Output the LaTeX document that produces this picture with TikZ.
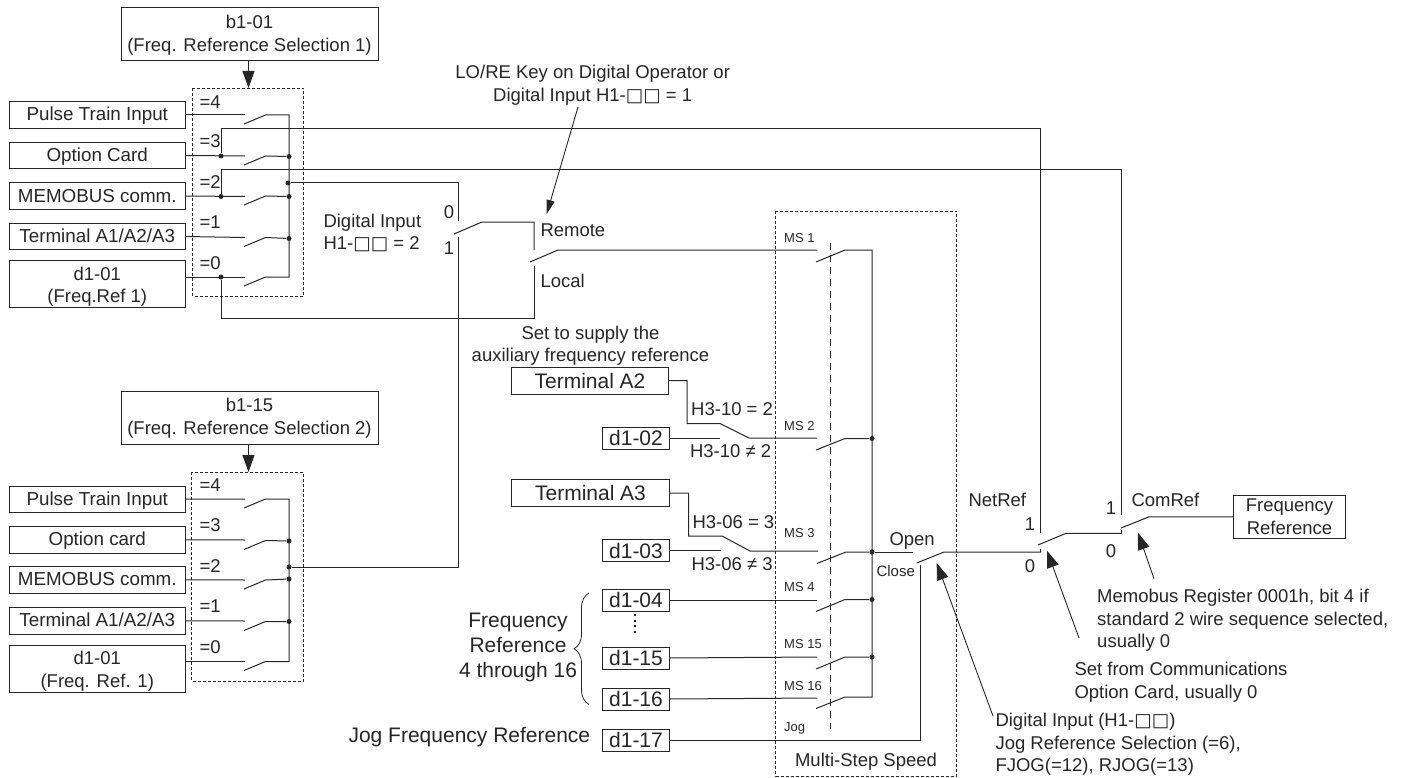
\documentclass[tikz,border=0pt]{standalone}
\usepackage{fontspec}
\setmainfont{Liberation Sans}
\newfontfamily\symfont{DejaVu Sans}
\usetikzlibrary{arrows.meta,positioning,decorations.pathreplacing}
\colorlet{ink}{black!85}
\newcommand{\sqq}{{\symfont\fontsize{18.5}{18.5}\selectfont □□}}

\begin{document}
\begin{tikzpicture}[
  x=1pt, y=-1pt,
  every path/.style={line width=1pt, color=ink},
  fnt/.style={font=\fontsize{18.5}{22.5}\selectfont},
  plainbox/.style={draw, fnt, align=center, inner sep=0pt, outer sep=0pt, minimum width=175.5pt, minimum height=26.5pt},
  box/.style={plainbox, font=\fontsize{18.8}{22.5}\selectfont, text height=12pt, text depth=0pt},
  tallbox/.style={plainbox, minimum height=47pt},
  selbox/.style={plainbox, minimum width=257pt, minimum height=53pt},
  parbox/.style={draw, align=center, inner sep=0pt, outer sep=0pt, font=\fontsize{21}{25}\selectfont, minimum width=67pt, minimum height=22pt},
  termbox/.style={parbox, minimum width=157.5pt, minimum height=27pt},
  dashbox/.style={draw, dash pattern=on 3pt off 2pt, line width=.9pt},
  lab/.style={fnt, inner sep=0pt, anchor=west, align=left, text height=13pt, text depth=0pt},
  small/.style={inner sep=0pt, anchor=west, font=\fontsize{13}{15}\selectfont, text height=9.5pt, text depth=0pt},
  note/.style={fnt, inner sep=0pt, anchor=north west, align=left},
  dot/.style={circle, fill=ink, inner sep=0pt, minimum size=5pt},
  arr/.style={-{Triangle[length=17pt,width=12pt]}, line width=.9pt}
]
\useasboundingbox (0,0) rectangle (1404,778);

% upper selection
\node[selbox] (sela) at (249.5,34.5) {\rule{0pt}{14.5pt}b1-01\\(Freq. Reference Selection 1)};
\node[box] (pulsea) at (97.25,115) {Pulse Train Input};
\node[box, below=14pt of pulsea] (opta) {Option Card};
\node[box, below=14pt of opta] (memoa) {MEMOBUS comm.};
\node[box, below=14pt of memoa] (terma) {Terminal A1/A2/A3};
\node[tallbox, below=11pt of terma] (refa) {\rule{0pt}{18pt}d1-01\\(Freq.Ref 1)};
\draw[dashbox] (192.5,88) rectangle (303,296);
\coordinate (sela in) at (248.5,88);
\draw[arr] (sela.south -| sela in) -- (sela in);
\node[lab] (eqa4) at (199,102) {=4};
\node[lab] (eqa3) at (199,141) {=3};
\node[lab] (eqa2) at (199,182) {=2};
\node[lab] (eqa1) at (199,222) {=1};
\node[lab] (eqa0) at (199,263) {=0};
\coordinate (buga) at (289,115);
\coordinate (bugb) at (289,277);
\node[dot] (dota3) at (289,156.5) {};
\node[dot] (dota2) at (289,196.5) {};
\node[dot] (dota1) at (289,238.5) {};
\node[dot] (dotout) at (288,183) {};
\node[dot] (tapopt) at (221,156) {};
\node[dot] (tapmemo) at (221,196.5) {};
\node[dot] (tapref) at (221,277) {};
\coordinate (ia4) at (245,115);
\coordinate (ia3) at (245,156);
\coordinate (ia2) at (245,196.5);
\coordinate (ia1) at (245,237.5);
\coordinate (ia0) at (245,277);
\draw (pulsea.east) -- (ia4);
\draw (opta.east) -- (ia3);
\draw (memoa.east) -- (ia2);
\draw (terma.east) -- (ia1);
\draw (refa.east |- ia0) -- (ia0);
\draw (244,124) -- ++(21.5,-9) -- (buga) -- (bugb) -- ++(-23.5,0) -- ++(-21.5,9);
\draw (244,165) -- ++(21.5,-9) -- (dota3);
\draw (244,205) -- ++(21.5,-9) -- (dota2);
\draw (244,246.5) -- ++(21.5,-9) -- (dota1);

% lower selection
\node[selbox] (selb) at (249.5,417.5) {\rule{0pt}{14.5pt}b1-15\\(Freq. Reference Selection 2)};
\node[box] (pulseb) at (97.25,499.25) {Pulse Train Input};
\node[box, below=14pt of pulseb] (optb) {Option card};
\node[box, below=13.5pt of optb] (memob) {MEMOBUS comm.};
\node[box, below=14.5pt of memob] (termb) {Terminal A1/A2/A3};
\node[tallbox, below=11.5pt of termb] (refb) {\rule{0pt}{18pt}d1-01\\(Freq. Ref. 1)};
\draw[dashbox] (191.5,472) rectangle (303,681);
\coordinate (selb in) at (248.5,472);
\draw[arr] (selb.south -| selb in) -- (selb in);
\node[lab] (eqb4) at (199,485) {=4};
\node[lab] (eqb3) at (199,525) {=3};
\node[lab] (eqb2) at (199,566) {=2};
\node[lab] (eqb1) at (199,606) {=1};
\node[lab] (eqb0) at (199,647) {=0};
\coordinate (bubu) at (289,499);
\coordinate (bubd) at (289,661.5);
\node[dot] (dotb3) at (289,541) {};
\node[dot] (dotb2) at (289,579) {};
\node[dot] (dotb1) at (289,621.5) {};
\node[dot] (dotoutb) at (289,567) {};
\coordinate (ib4) at (245,499);
\coordinate (ib3) at (245,540);
\coordinate (ib2) at (245,580);
\coordinate (ib1) at (245,621);
\coordinate (ib0) at (245,661.5);
\draw (pulseb.east) -- (ib4);
\draw (optb.east) -- (ib3);
\draw (memob.east) -- (ib2);
\draw (termb.east) -- (ib1);
\draw (refb.east |- ib0) -- (ib0);
\draw (244,508) -- ++(21.5,-9) -- (bubu) -- (bubd) -- ++(-23.5,0) -- ++(-21.5,9);
\draw (244,549.5) -- ++(21.5,-9) -- (dotb3);
\draw (244,589) -- ++(21.5,-9) -- (dotb2);
\draw (244,630.5) -- ++(21.5,-9) -- (dotb1);

% bypass lines to NetRef and ComRef
\coordinate (netup) at (1040.7,128.3);
\coordinate (netin) at (1040.7,532.5);
\coordinate (comup) at (1121.7,169.3);
\coordinate (comin) at (1121.7,515);
\draw (tapopt) -- (tapopt |- netup) -- (netup) -- (netin);
\draw (tapmemo) -- (tapmemo |- comup) -- (comup) -- (comin);

% digital input switch
\node[lab] (dig) at (323,221) {Digital Input};
\node[lab] (digb) at (323,243) {H1-\sqq{} = 2};
\node[fnt, inner sep=0pt] (zeroa) at (449,212) {0};
\node[fnt, inner sep=0pt] (onea) at (449,248) {1};
\coordinate (sel0) at (458,221);
\coordinate (sel1) at (458,237);
\coordinate (sel1b) at (458,567);
\draw (dotout) -| (sel0);
\draw (sel1) -- (sel1b) -- (dotoutb);
\draw (454,234) -- (482,222) -- (534,222) -- (534,250);

% remote and local
\node[lab] (rem) at (540,230) {Remote};
\node[lab] (loc) at (540,281) {Local};
\node[fnt, inner sep=0pt, align=center] (lore) at (592.7,85) {LO/RE Key on Digital Operator or\\Digital Input H1-\sqq{} = 1};
\coordinate (loretip) at (546.7,214);
\draw[-{Triangle[length=14pt,width=8pt]}, line width=.9pt] (578,107) -- (loretip);
\coordinate (locin) at (534,266);
\draw (locin) -- (534,318) -- (221,318) -- (tapref);
\coordinate (ms1in) at (817,250);
\draw (530,262) -- (558,250) -- (ms1in);

% auxiliary inputs
\node[fnt, inner sep=0pt, align=center] (aux) at (590.5,345.5) {Set to supply the\\auxiliary frequency reference};
\node[termbox] (terma2) at (590,380.5) {Terminal A2};
\node[parbox] (d102) at (636,438) {d1-02};
\node[termbox] (terma3) at (590.5,493) {Terminal A3};
\node[parbox] (d103) at (636,550.5) {d1-03};
\node[parbox] (d104) at (636,600) {d1-04};
\node[parbox, below=36pt of d104] (d115) {d1-15};
\node[parbox, below=19pt of d115] (d116) {d1-16};
\node[parbox, below=19pt of d116] (d117) {d1-17};
\node[lab] (h3a) at (690.7,409) {H3-10 = 2};
\node[lab] (h3b) at (689.5,451) {H3-10 ≠ 2};
\node[lab] (h3c) at (692,521.5) {H3-06 = 3};
\node[lab] (h3d) at (691,564) {H3-06 ≠ 3};
\coordinate (ms2in) at (817,438);
\coordinate (ms3in) at (818,551);
\coordinate (ms4in) at (817,600);
\coordinate (ms15in) at (817,657);
\coordinate (ms16in) at (817,698);
\draw (terma2.east) -- (687,380.5) -- (687,423.5) -- (720,423.5) -- (749,438) -- (ms2in);
\draw (d102.east) -- (720,438);
\draw (terma3.east) -- (688.5,493) -- (688.5,536) -- (722,536) -- (750,551) -- (ms3in);
\draw (d103.east) -- (721,550.5);
\draw (d104.east) -- (ms4in);
\draw (d115.east) -- (ms15in);
\draw (d116.east) -- (ms16in);
\draw[line width=1.7pt, dash pattern=on 2pt off 3.5pt] (634.7,614) -- (634.7,634);
\node[inner sep=0pt, font=\fontsize{21}{25}\selectfont, align=center] (freq) at (518,647) {Frequency\\Reference\\4 through 16};
\coordinate (bracetop) at (589,593);
\coordinate (bracebot) at (589,704.5);
\draw[decorate, decoration={brace, amplitude=15pt}, line width=.8pt] (bracebot) -- (bracetop);
\node[inner sep=0pt, anchor=east, font=\fontsize{21}{25}\selectfont] (jogref) at (590.7,737) {Jog Frequency Reference};

% multi-step speed
\draw[dashbox] (775.5,211) rectangle (956.5,776);
\draw[dash pattern=on 7pt off 5pt, line width=.9pt] (830,243) -- (830,729);
\node[fnt, inner sep=0pt] (mss) at (866,762) {Multi-Step Speed};
\node[small] (ms1) at (783.7,237.5) {MS 1};
\node[small] (ms2) at (783.7,426) {MS 2};
\node[small] (ms3) at (783.7,533) {MS 3};
\node[small] (ms4) at (783.7,587) {MS 4};
\node[small] (ms15) at (783.7,644) {MS 15};
\node[small] (ms16) at (783.7,686) {MS 16};
\node[small] (jog) at (783.7,727) {Jog};
\coordinate (bustop) at (872,250);
\coordinate (busbot) at (872,697);
\node[dot] (dot2) at (872,438.5) {};
\node[dot] (dot3) at (872,552) {};
\node[dot] (dot4) at (872,599.5) {};
\node[dot] (dot15) at (872,657) {};
\draw (816,262) -- (845,250) -- (bustop) -- (busbot) -- (845,697) -- (816,708.5);
\draw (816,450) -- (845,438.5) -- (dot2);
\draw (817,563.5) -- (846,552) -- (dot3);
\draw (816,611.5) -- (845,599.5) -- (dot4);
\draw (816,669) -- (845,657) -- (dot15);

% open and close switch
\node[lab] (open) at (889,539) {Open};
\node[inner sep=0pt, anchor=west, font=\fontsize{15}{18}\selectfont] (close) at (876,571) {Close};
\coordinate (openin) at (912.7,552);
\coordinate (closein) at (920.7,565);
\draw (dot3) -- (openin);
\draw (d117.east) -- (d117.east -| closein) -- (closein);
\draw (916.7,563) -- (944,552) -- (1040.7,552) -- (1040.7,549);
\draw[arr] (993,716) -- (936.7,563);

% NetRef and ComRef
\node[lab] (netref) at (968,500) {NetRef};
\node[fnt, inner sep=0pt] (net1) at (1030,524) {1};
\node[fnt, inner sep=0pt] (net0) at (1030,566) {0};
\node[lab] (comref) at (1131,500) {ComRef};
\node[fnt, inner sep=0pt] (com1) at (1111,508) {1};
\node[fnt, inner sep=0pt] (com0) at (1111,551) {0};
\node[plainbox, minimum width=112.5pt, minimum height=43.5pt] (fref) at (1289.5,516.8) {Frequency\\Reference};
\draw (1038,545) -- (1066,533.3) -- (1121.7,533.3) -- (1121.7,530);
\draw (1121,528) -- (1149,516.8) -- (fref.west);
\draw[arr] (1079,638) -- (1047,550.7);
\draw[arr] (1154,578.7) -- (1138,532.7);

% annotations
\node[note] (memotxt) at (1096.7,589) {Memobus Register 0001h, bit 4 if\\standard 2 wire sequence selected,\\usually 0};
\node[note] (settxt) at (1074,662) {Set from Communications\\Option Card, usually 0};
\node[note] (jogtxt) at (995,713) {Digital Input (H1-\sqq{})\\Jog Reference Selection (=6),\\FJOG(=12), RJOG(=13)};
\end{tikzpicture}
\end{document}
